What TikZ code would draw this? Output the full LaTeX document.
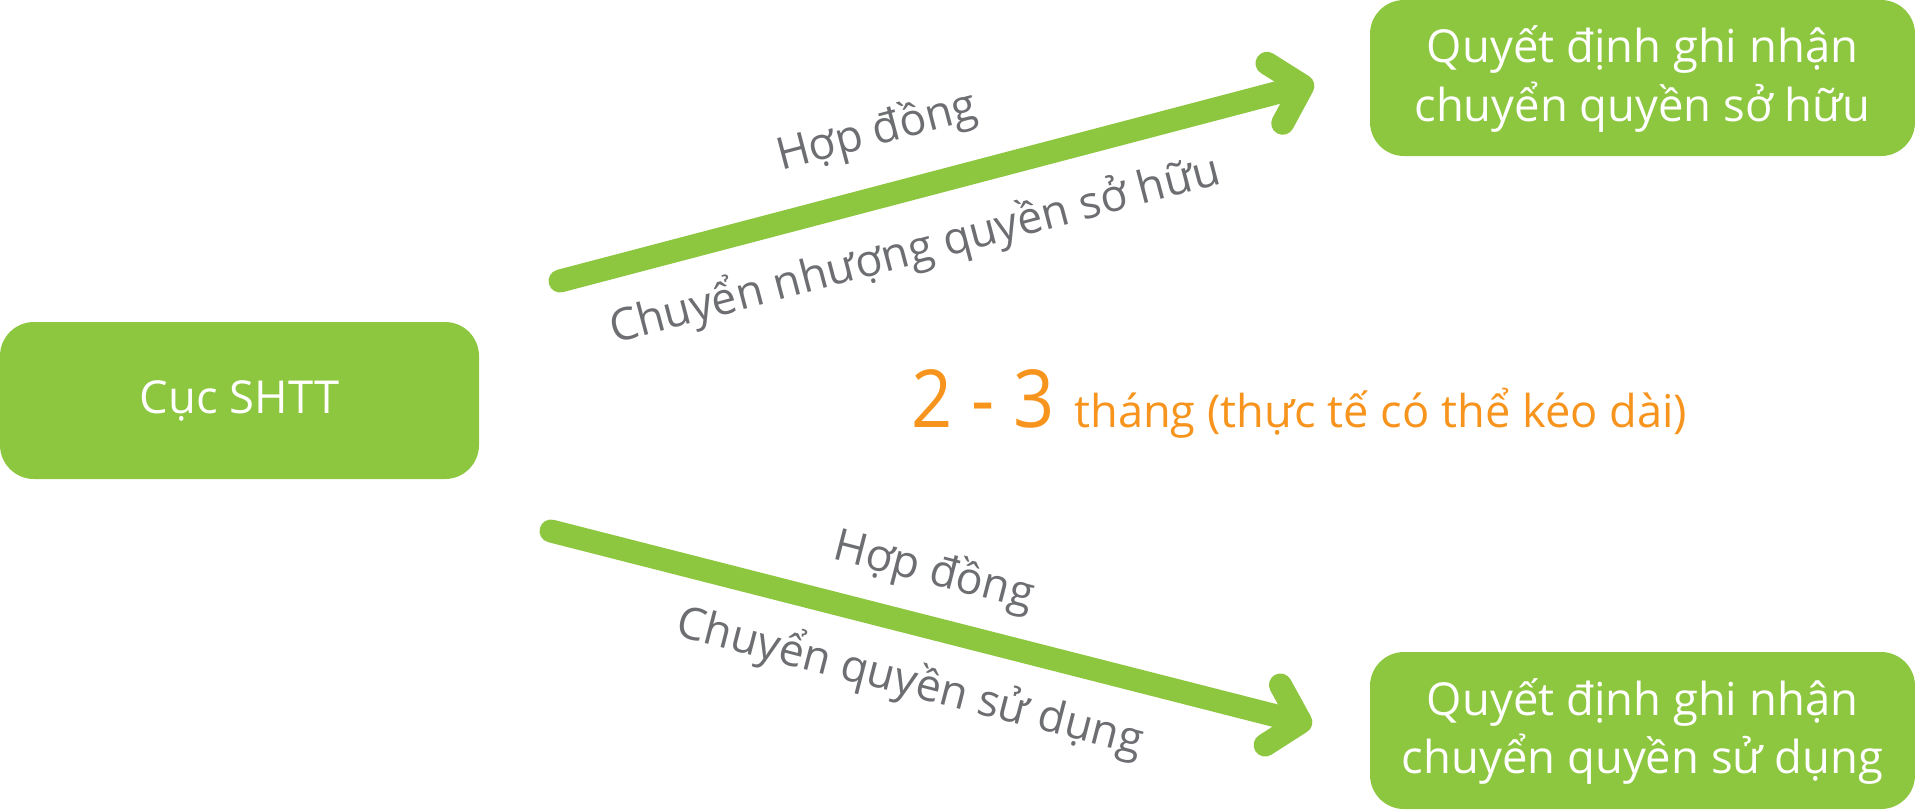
\documentclass[tikz,border=0pt]{standalone}
\usepackage{fontspec}
\setmainfont{Open Sans}
\newfontfamily\digfont[FakeStretch=0.9]{Open Sans}
\usetikzlibrary{arrows.meta}
\definecolor{grn}{HTML}{8DC63F}
\definecolor{gry}{HTML}{6D6E71}
\definecolor{org}{HTML}{F7941D}
\begin{document}
\begin{tikzpicture}[x=0.5pt,y=-0.5pt,
  box/.style={fill=grn, rounded corners=17pt, inner sep=0pt},
  boxtext/.style={text=white, align=center, font=\fontsize{22.7}{29.3}\selectfont},
  flow/.style={draw=grn, line width=11.5pt, line cap=round, line join=round,
    -{Straight Barb[round, length=14.5pt, width=31pt]}},
  lbl/.style={text=gry, inner sep=0pt, font=\fontsize{22.3}{27}\selectfont}]
\useasboundingbox (0,0) rectangle (1915,809);
% boxes
\path[box] (0,322) rectangle (479,479);
\node[boxtext] (cuc) at (239.5,400.5) {Cục SHTT};
\path[box] (1370,0) rectangle (1915,156);
\node[boxtext] (so) at (1642.5,79) {Quyết định ghi nhận\\chuyển quyền sở hữu};
\path[box] (1370,652) rectangle (1915,809);
\node[boxtext] (sd) at (1642.5,731.5) {Quyết định ghi nhận\\chuyển quyền sử dụng};
% arrows
\coordinate (a1) at (560,281);
\coordinate (b1) at (1314,83);
\coordinate (a2) at (551,531);
\coordinate (b2) at (1312,725);
\draw[flow] (a1) -- (b1);
\draw[flow] (a2) -- (b2);
% labels
\node[lbl, rotate=14.77] (h1) at (877,132) {Hợp đồng};
\node[lbl, rotate=14.77] (c1) at (915,250) {Chuyển nhượng quyền sở hữu};
\node[lbl, rotate=-14.41] (h2) at (934,572) {Hợp đồng};
\node[lbl, rotate=-14.41] (c2) at (910,682) {Chuyển quyền sử dụng};
% time
\node[anchor=base west, inner sep=0pt, text=org] (t) at (911,427)
  {{\digfont\fontsize{40}{44}\selectfont 2 - 3}\hspace{10pt}{\fontsize{22.6}{28}\selectfont tháng (thực tế có thể kéo dài)}};
\end{tikzpicture}
\end{document}
